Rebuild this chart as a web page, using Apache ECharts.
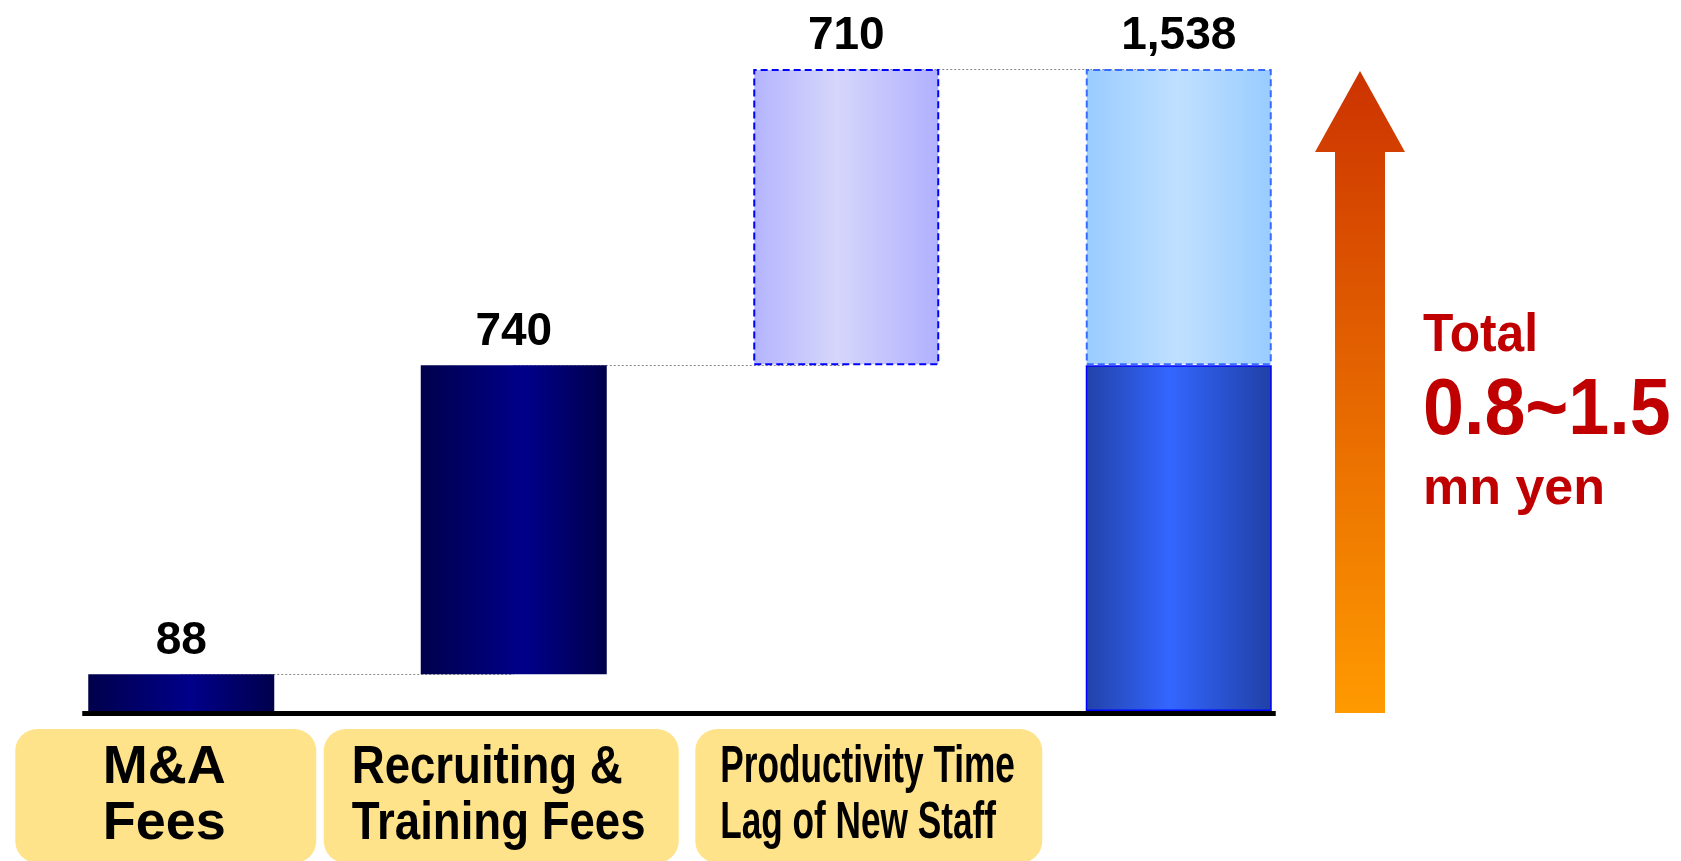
<!DOCTYPE html>
<html>
<head>
<meta charset="utf-8">
<script src="https://cdn.jsdelivr.net/npm/echarts@6/dist/echarts.min.js"></script>
<style>
html,body{margin:0;padding:0;background:#ffffff;}
#c{width:1681px;height:861px;}
</style>
</head>
<body>
<div id="c"></div>
<script>
// ---- data ----
const categories = ['M&A Fees', 'Recruiting & Training Fees', 'Productivity Time Lag of New Staff', 'Total'];
const boxLines = [['M&A', 'Fees'], ['Recruiting &', 'Training Fees'], ['Productivity Time', 'Lag of New Staff']];
const steps = [88, 740, 710];
const summaryLines = ['Total', '0.8~1.5', 'mn yen'];

// ---- derived waterfall series ----
const total = steps.reduce((a, b) => a + b, 0);
const baseVals = [0, steps[0], steps[0] + steps[1], 0];
const fmt = v => Number(v).toLocaleString('en-US');

const FONT = "'Liberation Sans', Arial, Helvetica, sans-serif";
const G = echarts.graphic.LinearGradient;
const navyFill = () => new G(0, 0, 1, 0, [{offset: 0, color: '#00004C'}, {offset: 0.55, color: '#00008A'}, {offset: 1, color: '#00004C'}]);
const blueFill = () => new G(0, 0, 1, 0, [{offset: 0, color: '#2242A8'}, {offset: 0.45, color: '#3366FF'}, {offset: 1, color: '#2040A6'}]);
const lavFill = () => new G(0, 0, 1, 0, [{offset: 0, color: '#B4B4FF'}, {offset: 0.45, color: '#D6D6FB'}, {offset: 1, color: '#B0B0FF'}]);
const skyFill = () => new G(0, 0, 1, 0, [{offset: 0, color: '#99CCFF'}, {offset: 0.5, color: '#C0E0FF'}, {offset: 1, color: '#99CCFF'}]);

const valueLabel = {
  show: true, position: 'top', distance: 10,
  fontSize: 46, fontWeight: 'bold', fontFamily: FONT, color: '#000000'
};

const darkData = [
  {value: steps[0], itemStyle: {color: navyFill()}, label: valueLabel},
  {value: steps[1], itemStyle: {color: navyFill()}, label: valueLabel},
  '-',
  {value: steps[0] + steps[1], itemStyle: {color: blueFill(), borderColor: '#0000FF', borderWidth: 1.5}, label: {show: false}}
];
const lightData = [
  '-', '-',
  {value: steps[2], itemStyle: {color: lavFill(), borderColor: '#0000FF', borderWidth: 2, borderType: [7, 4]}, label: valueLabel},
  {value: steps[2], itemStyle: {color: skyFill(), borderColor: '#3A6BFF', borderWidth: 2, borderType: [7, 4]}, label: valueLabel}
];

const chart = echarts.init(document.getElementById('c'), null, {renderer: 'canvas'});

const option = {
  animation: false,
  backgroundColor: '#ffffff',
  grid: {left: 15, right: 336, top: 43, bottom: 150, containLabel: false, outerBoundsMode: 'none'},
  xAxis: {
    type: 'category', data: categories,
    axisLine: {show: false}, axisTick: {show: false}, axisLabel: {show: false}, splitLine: {show: false}
  },
  yAxis: {
    type: 'value', min: 0, max: 1600, show: false, splitLine: {show: false}
  },
  series: [
    {
      name: 'base', type: 'bar', stack: 'w', barWidth: 186, z: 1,
      itemStyle: {color: 'rgba(0,0,0,0)'}, emphasis: {disabled: true}, silent: true,
      data: baseVals,
      markLine: {
        z: 1, silent: true, symbol: 'none', label: {show: false},
        lineStyle: {type: [2, 2], color: '#8a8a8a', width: 1},
        data: [
          [{coord: [0, baseVals[1]]}, {coord: [1, baseVals[1]]}],
          [{coord: [1, baseVals[2]]}, {coord: [2, baseVals[2]]}],
          [{coord: [2, total]}, {coord: [3, total]}]
        ]
      }
    },
    {
      name: 'cost', type: 'bar', stack: 'w', barWidth: 186, z: 2,
      emphasis: {disabled: true},
      label: {formatter: p => fmt(p.value)},
      data: darkData
    },
    {
      name: 'upper', type: 'bar', stack: 'w', barWidth: 186, z: 2,
      emphasis: {disabled: true},
      label: {formatter: p => p.dataIndex === 3 ? fmt(total) : fmt(p.value)},
      data: lightData
    }
  ]
};
chart.setOption(option);

// ---- annotations positioned via the chart's own scales ----
const cx = i => chart.convertToPixel({xAxisIndex: 0}, i);
const cy = v => chart.convertToPixel({yAxisIndex: 0}, v);
const y0 = cy(0);
const yTop = cy(total);

const boxLayout = [
  {dx: -166, w: 301, textDx: 149, align: 'center', font: 54, sx: 1.0},
  {dx: -190, w: 355, textDx: 28, align: 'left', font: 53, sx: 0.86},
  {dx: -151, w: 347, textDx: 25, align: 'left', font: 51, sx: 0.69}
];

const graphics = [];
// baseline (x axis)
graphics.push({
  type: 'line', z: 10,
  shape: {x1: cx(0) - 99, y1: y0 + 2.5, x2: cx(3) + 97, y2: y0 + 2.5},
  style: {stroke: '#000000', lineWidth: 5}
});
// category boxes
boxLines.forEach((lines, i) => {
  const L = boxLayout[i];
  const left = cx(i) + L.dx;
  graphics.push({
    type: 'rect', z: 10,
    shape: {x: left, y: y0 + 18, width: L.w, height: 134, r: 22},
    style: {fill: '#FFE38A'}
  });
  graphics.push({
    type: 'text', z: 11,
    x: left + L.textDx, y: y0 + 85, scaleX: L.sx, originX: 0, originY: 0,
    style: {
      text: lines.join('\n'), x: 0, y: 0,
      font: 'bold ' + L.font + 'px ' + FONT, fill: '#000000',
      textAlign: L.align, textVerticalAlign: 'middle', align: L.align, verticalAlign: 'middle',
      lineHeight: 56
    }
  });
});
// orange arrow
const ax = 1360, headY = yTop + 83, bot = y0 + 2;
graphics.push({
  type: 'polygon', z: 10,
  shape: {points: [[ax, yTop + 2], [ax + 45, headY], [ax + 25, headY], [ax + 25, bot], [ax - 25, bot], [ax - 25, headY], [ax - 45, headY]]},
  style: {fill: new G(0, 0, 0, 1, [{offset: 0, color: '#CC3300'}, {offset: 1, color: '#FF9A00'}])}
});
// summary text
const sumStyle = [
  {y: 336, font: 54, sx: 0.92},
  {y: 412, font: 80, sx: 0.92},
  {y: 490, font: 52, sx: 1.0}
];
summaryLines.forEach((t, i) => {
  const s = sumStyle[i];
  graphics.push({
    type: 'text', z: 11,
    x: 1423, y: s.y, scaleX: s.sx, originX: 0, originY: 0,
    style: {
      text: t, x: 0, y: 0, font: 'bold ' + s.font + 'px ' + FONT, fill: '#C00000',
      textAlign: 'left', textVerticalAlign: 'middle', align: 'left', verticalAlign: 'middle'
    }
  });
});
chart.setOption({graphic: graphics});
</script>
</body>
</html>
